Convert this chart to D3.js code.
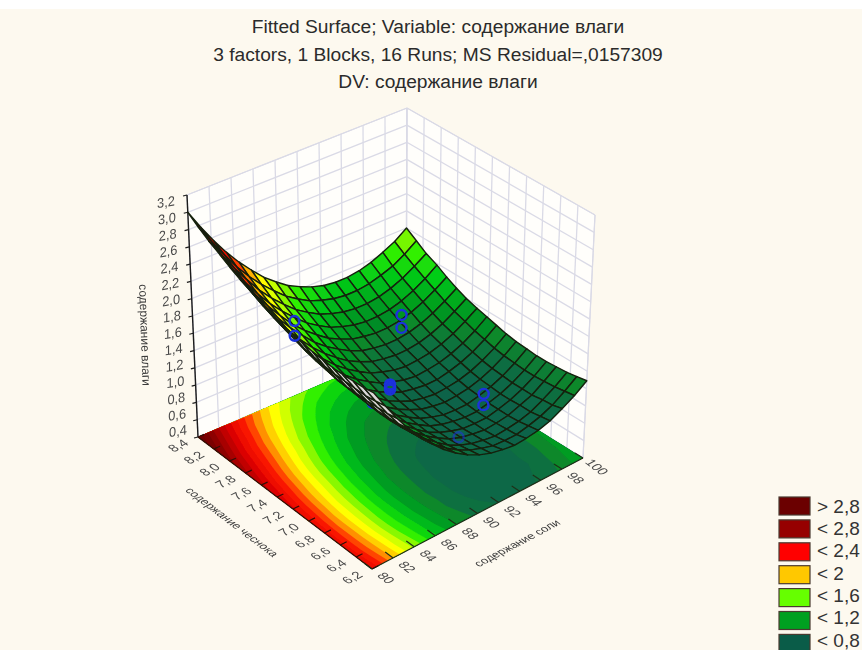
<!DOCTYPE html>
<html>
<head>
<meta charset="utf-8">
<title>Fitted Surface</title>
<script src="https://cdn.jsdelivr.net/npm/d3@7"></script>
<style>
    html, body { margin: 0; padding: 0; background: #fdf9ef; overflow: hidden; }
    svg { display: block; }
    text { font-family: "Liberation Sans", Arial, sans-serif; }
</style>
</head>
<body>
<svg id="chart" width="862" height="650"></svg>
<script>

// values
var titleLines = [
    "Fitted Surface; Variable: содержание влаги",
    "3 factors, 1 Blocks, 16 Runs; MS Residual=,0157309",
    "DV: содержание влаги"
];

var saltTicks = [80, 82, 84, 86, 88, 90, 92, 94, 96, 98, 100];
var chocTicks = [6.2, 6.4, 6.6, 6.8, 7.0, 7.2, 7.4, 7.6, 7.8, 8.0, 8.2, 8.4];
var moistTicks = [0.4, 0.6, 0.8, 1.0, 1.2, 1.4, 1.6, 1.8, 2.0, 2.2, 2.4, 2.6, 2.8, 3.0, 3.2];

var saltName = "содержание соли";
var chocName = "содержание чеснока";
var moistName = "содержание влаги";

var legendLabels = ["> 2,8", "< 2,8", "< 2,4", "< 2", "< 1,6", "< 1,2", "< 0,8"];
var legendColors = ["#6b0000", "#960000", "#ff0000", "#ffc800", "#66ff00", "#00a020", "#0a5c48"];

var meshSalt = [80, 81.11, 82.22, 83.33, 84.44, 85.56, 86.67, 87.78, 88.89, 90, 91.11, 92.22, 93.33, 94.44, 95.56, 96.67, 97.78, 98.89, 100];
var meshChoc = [6.2, 6.32, 6.44, 6.57, 6.69, 6.81, 6.93, 7.06, 7.18, 7.3, 7.42, 7.54, 7.67, 7.79, 7.91, 8.03, 8.16, 8.28, 8.4];

// one row per meshChoc value, one column per meshSalt value
var meshMoist = [
    [2.40, 2.18, 1.97, 1.78, 1.62, 1.47, 1.34, 1.23, 1.14, 1.07, 1.02, 0.99, 0.97, 0.98, 1.00, 1.04, 1.11, 1.19, 1.29],
    [2.38, 2.16, 1.95, 1.76, 1.60, 1.45, 1.32, 1.21, 1.12, 1.05, 1.00, 0.96, 0.95, 0.95, 0.98, 1.02, 1.08, 1.17, 1.27],
    [2.37, 2.14, 1.94, 1.75, 1.58, 1.44, 1.31, 1.20, 1.10, 1.03, 0.98, 0.95, 0.93, 0.94, 0.96, 1.00, 1.07, 1.15, 1.25],
    [2.36, 2.14, 1.93, 1.74, 1.57, 1.43, 1.30, 1.19, 1.10, 1.02, 0.97, 0.94, 0.92, 0.93, 0.95, 1.00, 1.05, 1.14, 1.24],
    [2.36, 2.14, 1.93, 1.74, 1.57, 1.43, 1.30, 1.19, 1.09, 1.02, 0.97, 0.93, 0.92, 0.92, 0.95, 0.99, 1.05, 1.13, 1.23],
    [2.37, 2.14, 1.93, 1.75, 1.58, 1.43, 1.30, 1.19, 1.10, 1.02, 0.97, 0.94, 0.92, 0.92, 0.95, 0.99, 1.05, 1.13, 1.23],
    [2.38, 2.15, 1.94, 1.76, 1.59, 1.44, 1.31, 1.20, 1.11, 1.03, 0.98, 0.94, 0.93, 0.93, 0.96, 1.00, 1.06, 1.14, 1.24],
    [2.40, 2.17, 1.96, 1.77, 1.61, 1.46, 1.33, 1.21, 1.12, 1.05, 0.99, 0.96, 0.94, 0.95, 0.97, 1.01, 1.07, 1.15, 1.25],
    [2.42, 2.19, 1.98, 1.80, 1.63, 1.48, 1.35, 1.24, 1.14, 1.07, 1.01, 0.98, 0.96, 0.97, 0.99, 1.03, 1.09, 1.17, 1.27],
    [2.45, 2.22, 2.01, 1.83, 1.66, 1.51, 1.38, 1.26, 1.17, 1.10, 1.04, 1.01, 0.99, 0.99, 1.02, 1.06, 1.12, 1.20, 1.30],
    [2.49, 2.26, 2.05, 1.86, 1.69, 1.54, 1.41, 1.30, 1.21, 1.13, 1.08, 1.04, 1.02, 1.03, 1.05, 1.09, 1.15, 1.23, 1.33],
    [2.53, 2.30, 2.09, 1.90, 1.73, 1.58, 1.45, 1.34, 1.25, 1.17, 1.12, 1.08, 1.06, 1.07, 1.09, 1.13, 1.19, 1.27, 1.36],
    [2.58, 2.35, 2.14, 1.95, 1.78, 1.63, 1.50, 1.39, 1.29, 1.22, 1.16, 1.13, 1.11, 1.11, 1.13, 1.17, 1.23, 1.31, 1.40],
    [2.63, 2.41, 2.20, 2.01, 1.84, 1.69, 1.55, 1.44, 1.35, 1.27, 1.21, 1.18, 1.16, 1.16, 1.18, 1.22, 1.28, 1.36, 1.45],
    [2.69, 2.47, 2.26, 2.07, 1.90, 1.74, 1.61, 1.50, 1.40, 1.33, 1.27, 1.24, 1.22, 1.22, 1.24, 1.28, 1.34, 1.42, 1.51],
    [2.76, 2.53, 2.32, 2.13, 1.96, 1.81, 1.68, 1.56, 1.47, 1.39, 1.34, 1.30, 1.28, 1.28, 1.30, 1.34, 1.40, 1.48, 1.58],
    [2.83, 2.61, 2.40, 2.21, 2.03, 1.88, 1.75, 1.63, 1.54, 1.46, 1.41, 1.37, 1.35, 1.35, 1.37, 1.41, 1.47, 1.55, 1.64],
    [2.91, 2.69, 2.48, 2.28, 2.11, 1.96, 1.83, 1.71, 1.62, 1.54, 1.49, 1.45, 1.43, 1.43, 1.45, 1.49, 1.54, 1.62, 1.72],
    [3.00, 2.77, 2.56, 2.37, 2.20, 2.05, 1.91, 1.80, 1.70, 1.63, 1.57, 1.53, 1.51, 1.51, 1.53, 1.57, 1.63, 1.70, 1.80]
];

// observed runs
var pointSalt  = [85.3, 85.3, 95.3, 95.3, 94.6, 94.6, 90, 90, 90, 90, 90, 85, 88.4];
var pointChoc  = [7.85, 7.85, 7.85, 7.85, 6.75, 6.75, 7.3, 7.3, 7.3, 7.3, 7.3, 6.86, 6.25];
var pointMoist = [1.83, 1.66, 1.36, 1.21, 1.15, 1.02, 1.16, 1.13, 1.19, 1.15, 1.17, 1.55, 1.34];
var pointLayer = ["over", "over", "over", "over", "over", "over", "over", "over", "over", "over", "over", "under", "faint"];

// contour bands of the floor
var floorLevels = [0.8, 0.9, 1.0, 1.1, 1.2, 1.3, 1.4, 1.5, 1.6, 1.7, 1.8, 1.9, 2.0, 2.1, 2.2, 2.3, 2.4, 2.5, 2.6, 2.7, 2.8, 2.9];

var colorScale = d3.scaleLinear()
    .domain([0.9, 1.05, 1.15, 1.25, 1.4, 1.55, 1.65, 1.75, 1.85, 1.95, 2.05, 2.2, 2.4, 2.8, 3.0])
    .range(["#0f6449", "#0c6f40", "#08882a", "#009c20", "#00c818", "#30f000", "#88f800", "#d0ff00", "#ffff00", "#ffd000", "#ff9000", "#ff2000", "#e80000", "#800000", "#680000"])
    .clamp(true);

// the box, in screen pixels: f = floor, t = top, first digit salt end, second digit choc end
var box = {
    f00: [372, 569], f10: [583, 458], f01: [198, 437], f11: [406, 348],
    t00: [374, 322], t10: [595, 215], t01: [187, 195], t11: [407, 108]
};

var saltScale = d3.scaleLinear().domain([80, 100]).range([0, 1]);
var chocScale = d3.scaleLinear().domain([6.2, 8.4]).range([0, 1]);
var moistScale = d3.scaleLinear().domain([0.4, 3.2]).range([0, 1]);

function project(salt, choc, moist) {
    return projectUnit(saltScale(salt), chocScale(choc), moistScale(moist));
}

function projectUnit(u, v, w) {
    var res = [0, 0];
    for (var k = 0; k < 2; k++) {
        var floorVal = box.f00[k] * (1 - u) * (1 - v) + box.f10[k] * u * (1 - v) +
            box.f01[k] * (1 - u) * v + box.f11[k] * u * v;
        var topVal = box.t00[k] * (1 - u) * (1 - v) + box.t10[k] * u * (1 - v) +
            box.t01[k] * (1 - u) * v + box.t11[k] * u * v;
        res[k] = floorVal + (topVal - floorVal) * w;
    }
    return res;
}

function polyPath(pts) {
    return "M" + pts.map(function (p) {
        return p[0].toFixed(2) + "," + p[1].toFixed(2);
    }).join("L") + "Z";
}

function addLine(group, a, b, color, width) {
    group.append("line")
        .attr("x1", a[0]).attr("y1", a[1])
        .attr("x2", b[0]).attr("y2", b[1])
        .attr("stroke", color)
        .attr("stroke-width", width);
}

function decimal(d) {
    return d.toFixed(1).replace(".", ",");
}

var svg = d3.select("#chart");

svg.append("rect").attr("width", 862).attr("height", 650).attr("fill", "#fdf9ef");
svg.append("rect").attr("width", 862).attr("height", 9).attr("fill", "#ffffff");

var defs = svg.append("defs");
defs.append("filter").attr("id", "soft")
    .attr("x", "-5%").attr("y", "-5%").attr("width", "110%").attr("height", "110%")
    .append("feGaussianBlur").attr("stdDeviation", 0.5);

// title
svg.append("g").selectAll("text")
    .data(titleLines)
    .enter().append("text")
    .attr("x", 438)
    .attr("y", function (d, i) { return 33 + i * 27.5; })
    .attr("text-anchor", "middle")
    .attr("font-size", 19.2)
    .attr("fill", "#2b2b2b")
    .text(function (d) { return d; });

var plot = svg.append("g").attr("filter", "url(#soft)");

//*************** walls

var wallColor = "#dadae6";
var walls = plot.append("g");

walls.append("path")
    .attr("d", polyPath([project(80, 8.4, 0.4), project(100, 8.4, 0.4), project(100, 8.4, 3.2), project(80, 8.4, 3.2)]))
    .attr("fill", "#fffefb").attr("stroke", wallColor);
walls.append("path")
    .attr("d", polyPath([project(100, 6.2, 0.4), project(100, 8.4, 0.4), project(100, 8.4, 3.2), project(100, 6.2, 3.2)]))
    .attr("fill", "#fffefb").attr("stroke", wallColor);

saltTicks.forEach(function (s) {
    addLine(walls, project(s, 8.4, 0.4), project(s, 8.4, 3.2), wallColor, 1.3);
});
chocTicks.forEach(function (c) {
    addLine(walls, project(100, c, 0.4), project(100, c, 3.2), wallColor, 1.3);
});
moistTicks.forEach(function (m) {
    addLine(walls, project(80, 8.4, m), project(100, 8.4, m), wallColor, 1.3);
    addLine(walls, project(100, 8.4, m), project(100, 6.2, m), wallColor, 1.3);
});

//*************** floor

var flat = [];
meshMoist.forEach(function (row) {
    row.forEach(function (d) { flat.push(d); });
});

var n = meshSalt.length;
var contours = d3.contours().size([n, meshChoc.length]).thresholds(floorLevels)(flat);

function gridToFloor(p) {
    var u = Math.max(0, Math.min(1, (p[0] - 0.5) / (n - 1)));
    var v = Math.max(0, Math.min(1, (p[1] - 0.5) / (meshChoc.length - 1)));
    return projectUnit(u, v, 0);
}

plot.append("g").selectAll("path")
    .data(contours)
    .enter().append("path")
    .attr("d", function (d) {
        var s = "";
        d.coordinates.forEach(function (poly) {
            poly.forEach(function (ring) {
                s += polyPath(ring.map(gridToFloor));
            });
        });
        return s;
    })
    .attr("fill-rule", "evenodd")
    .attr("fill", function (d) { return colorScale(d.value + 0.05); });

//*************** axes

var axes = plot.append("g");
var axisColor = "#1c1c1c";

addLine(axes, project(80, 8.4, 0.4), project(80, 8.4, 3.2), axisColor, 1.4);
addLine(axes, project(80, 6.2, 0.4), project(100, 6.2, 0.4), "#20301a", 1.2);
addLine(axes, project(80, 6.2, 0.4), project(80, 8.4, 0.4), "#301008", 1.2);

saltTicks.forEach(function (s) {
    addLine(axes, project(s, 6.2, 0.4), project(s, 6.3, 0.4), "#20301a", 1.2);
});
chocTicks.forEach(function (c) {
    addLine(axes, project(80, c, 0.4), project(80.6, c, 0.4), "#301008", 1.2);
});
moistTicks.forEach(function (m) {
    var p = project(80, 8.4, m);
    addLine(axes, p, [p[0] - 4, p[1] + 1], axisColor, 1.2);
});

var labelColor = "#4a4a4a";

axes.selectAll(".moist-label")
    .data(moistTicks)
    .enter().append("text")
    .attr("class", "moist-label")
    .attr("transform", function (d) {
        var p = project(80, 8.4, d);
        var t = moistScale(d);
        return "matrix(0.985,-0.17,0,1.06," + (p[0] - 20 - t) + "," + (p[1] - 6 + 13 * t) + ")";
    })
    .attr("dy", "0.35em")
    .attr("text-anchor", "middle")
    .attr("font-size", 13)
    .attr("fill", labelColor)
    .text(decimal);

axes.selectAll(".salt-label")
    .data(saltTicks)
    .enter().append("text")
    .attr("class", "salt-label")
    .attr("transform", function (d) {
        var p = project(d, 6.2, 0.4);
        return "matrix(0.797,0.604,-0.885,0.466," + (p[0] + 14) + "," + (p[1] + 9) + ")";
    })
    .attr("dy", "0.35em")
    .attr("text-anchor", "middle")
    .attr("font-size", 13)
    .attr("fill", labelColor)
    .text(function (d) { return d; });

axes.selectAll(".choc-label")
    .data(chocTicks)
    .enter().append("text")
    .attr("class", "choc-label")
    .attr("transform", function (d) {
        var p = project(80, d, 0.4);
        return "matrix(0.885,-0.466,0.797,0.604," + (p[0] - 20) + "," + (p[1] + 8.5) + ")";
    })
    .attr("dy", "0.35em")
    .attr("text-anchor", "middle")
    .attr("font-size", 13)
    .attr("fill", labelColor)
    .text(decimal);

axes.append("text")
    .attr("transform", "translate(145,335) rotate(88)")
    .attr("text-anchor", "middle")
    .attr("dy", "0.35em")
    .attr("font-size", 12)
    .attr("fill", "#3a3a3a")
    .text(moistName);

axes.append("text")
    .attr("transform", "matrix(0.797,0.604,-0.885,0.466,232,522)")
    .attr("text-anchor", "middle")
    .attr("dy", "0.35em")
    .attr("font-size", 11.5)
    .attr("fill", "#3a3a3a")
    .text(chocName);

axes.append("text")
    .attr("transform", "matrix(0.885,-0.466,0.797,0.604,517,543)")
    .attr("text-anchor", "middle")
    .attr("dy", "0.35em")
    .attr("font-size", 11.5)
    .attr("fill", "#3a3a3a")
    .text(saltName);

//*************** observed points and surface

function drawPoints(layer, opacity) {
    var idx = d3.range(pointSalt.length).filter(function (i) { return pointLayer[i] == layer; });
    plot.append("g").selectAll("circle")
        .data(idx)
        .enter().append("circle")
        .attr("cx", function (i) { return project(pointSalt[i], pointChoc[i], pointMoist[i])[0]; })
        .attr("cy", function (i) { return project(pointSalt[i], pointChoc[i], pointMoist[i])[1]; })
        .attr("r", 5)
        .attr("fill", "none")
        .attr("stroke", "#1c30dc")
        .attr("stroke-width", 2.4)
        .attr("opacity", opacity);
}

drawPoints("under", 1);

var cells = [];
for (var j = 0; j < meshChoc.length - 1; j++) {
    for (var i = 0; i < meshSalt.length - 1; i++) {
        var pts = [
            project(meshSalt[i], meshChoc[j], meshMoist[j][i]),
            project(meshSalt[i + 1], meshChoc[j], meshMoist[j][i + 1]),
            project(meshSalt[i + 1], meshChoc[j + 1], meshMoist[j + 1][i + 1]),
            project(meshSalt[i], meshChoc[j + 1], meshMoist[j + 1][i])
        ];
        var mean = (meshMoist[j][i] + meshMoist[j][i + 1] + meshMoist[j + 1][i + 1] + meshMoist[j + 1][i]) / 4;
        cells.push({
            pts: pts,
            value: mean,
            depth: i + j,
            // seen from below when the winding turns over
            under: d3.polygonArea(pts) < 0
        });
    }
}

cells.sort(function (a, b) {
    return b.depth - a.depth;
});

plot.append("g").selectAll("path")
    .data(cells)
    .enter().append("path")
    .attr("d", function (d) { return polyPath(d.pts); })
    // the mesh reads a little greener than the floor at the same height
    .attr("fill", function (d) { return d.under ? "#dcd8d8" : colorScale(d.value - 0.08); })
    .attr("stroke", "#14200c")
    .attr("stroke-width", 1.4)
    .attr("stroke-linejoin", "round");

drawPoints("over", 1);
drawPoints("faint", 0.55);

//*************** legend

var legend = svg.append("g");

legend.selectAll("rect")
    .data(legendLabels)
    .enter().append("rect")
    .attr("x", 779)
    .attr("y", function (d, i) { return 497 + i * 22.9; })
    .attr("width", 31)
    .attr("height", 18)
    .attr("fill", function (d, i) { return legendColors[i]; })
    .attr("stroke", "#4a3a30")
    .attr("stroke-width", 1.2);

legend.selectAll("text")
    .data(legendLabels)
    .enter().append("text")
    .attr("x", 817)
    .attr("y", function (d, i) { return 512.8 + i * 22.3; })
    .attr("font-size", 19)
    .attr("fill", "#333333")
    .text(function (d) { return d; });

</script>
</body>
</html>
